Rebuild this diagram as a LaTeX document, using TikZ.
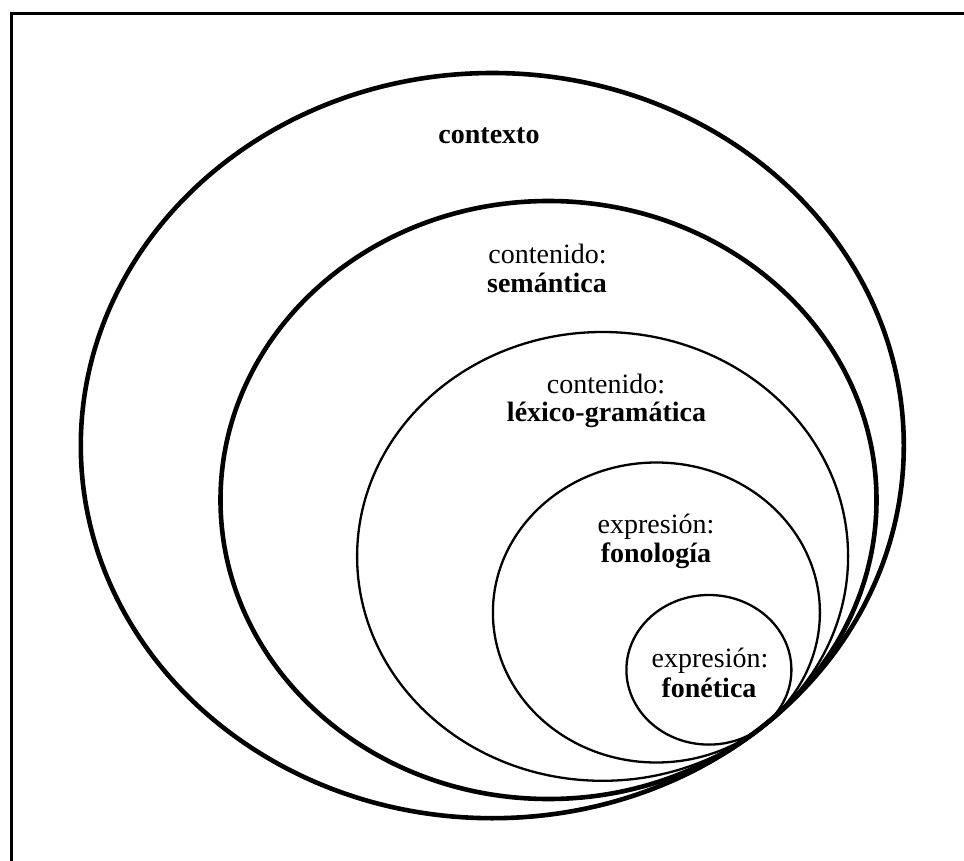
\documentclass[tikz,border=0pt]{standalone}
\usepackage{fontspec}
\setmainfont{Liberation Serif}
\begin{document}
\begin{tikzpicture}[x=1pt,y=-1pt,
  lbl/.style={font=\fontsize{28}{30}\selectfont, inner sep=0pt, anchor=base},
  lblb/.style={lbl, font=\fontsize{28}{30}\selectfont\bfseries},
  thickring/.style={draw=black, line width=4.6pt},
  thinring/.style={draw=black, line width=2.3pt}]
\useasboundingbox (0,0) rectangle (964,861);
\fill[white] (0,0) rectangle (964,861);

% outer frame, open past the right and bottom edges
\begin{scope}
  \clip (0,0) rectangle (964,861);
  \draw[line width=3.4pt] (11.2,13.8) rectangle (990,890);
\end{scope}

% nested levels, all touching at one point on the lower right
\draw[thickring] (492.3,445.6) ellipse [x radius=411.5, y radius=372.6];
\draw[thickring] (548.5,500.0) ellipse [x radius=328, y radius=299];
\draw[thinring]  (602.6,556.4) ellipse [x radius=245.5, y radius=224.4];
\draw[thinring]  (656.4,612.5) ellipse [x radius=163.5, y radius=150];
\draw[thinring]  (708.9,669.8) ellipse [x radius=82.5, y radius=74.8];

% labels
\node[lblb] (contexto) at (489,144) {contexto};
\node[lbl]  (semA) at (547.5,263) {contenido:};
\node[lblb] (semB) at (547,292) {semántica};
\node[lbl]  (lexA) at (606,393) {contenido:};
\node[lblb] (lexB) at (606.5,421.5) {léxico-gramática};
\node[lbl]  (fonA) at (656,533) {expresión:};
\node[lblb] (fonB) at (656,562) {fonología};
\node[lbl]  (fetA) at (710,667) {expresión:};
\node[lblb] (fetB) at (709,697) {fonética};
\end{tikzpicture}
\end{document}
